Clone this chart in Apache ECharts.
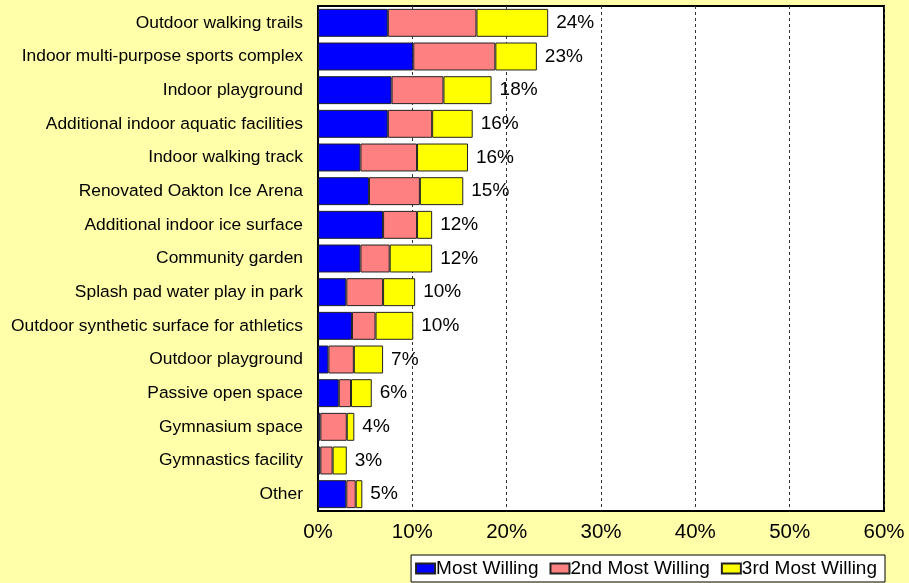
<!DOCTYPE html>
<html>
<head>
<meta charset="utf-8">
<script src="https://cdn.jsdelivr.net/npm/echarts@6/dist/echarts.min.js"></script>
<style>
  html, body { margin: 0; padding: 0; background: #FFFFAA; }
  #chart { width: 909px; height: 583px; }
</style>
</head>
<body>
<div id="chart"></div>
<script>
// Facility types, listed top to bottom
const categories = [
  'Outdoor walking trails',
  'Indoor multi-purpose sports complex',
  'Indoor playground',
  'Additional indoor aquatic facilities',
  'Indoor walking track',
  'Renovated Oakton Ice Arena',
  'Additional indoor ice surface',
  'Community garden',
  'Splash pad water play in park',
  'Outdoor synthetic surface for athletics',
  'Outdoor playground',
  'Passive open space',
  'Gymnasium space',
  'Gymnastics facility',
  'Other'
];

// Percent of respondents by willingness rank
const mostWilling   = [7.4, 10.1, 7.8, 7.4, 4.5, 5.4, 6.9, 4.5, 3.0, 3.6, 1.1, 2.2, 0.25, 0.25, 3.0];
const secondWilling = [9.4, 8.7, 5.5, 4.7, 6.0, 5.4, 3.6, 3.1, 3.9, 2.5, 2.7, 1.3, 2.8, 1.3, 1.0];
const thirdWilling  = [7.6, 4.4, 5.1, 4.3, 5.4, 4.6, 1.6, 4.5, 3.4, 4.0, 3.1, 2.2, 0.8, 1.5, 0.7];

const xTicks = [0, 10, 20, 30, 40, 50, 60];

// Combined share shown at the end of each bar
const totals = categories.map((_, i) => mostWilling[i] + secondWilling[i] + thirdWilling[i]);

const FONT = 'Liberation Sans, Arial, sans-serif';
const barBorder = { borderColor: '#222', borderWidth: 1 };

const chart = echarts.init(document.getElementById('chart'), null, { renderer: 'canvas' });

chart.setOption({
  backgroundColor: '#FFFFAA',
  animation: false,
  textStyle: { fontFamily: FONT },
  grid: {
    left: 318, right: 25, top: 6, bottom: 72,
    show: true, backgroundColor: '#FFFFFF',
    borderColor: '#000', borderWidth: 2,
    containLabel: false
  },
  legend: {
    data: ['Most Willing', '2nd Most Willing', '3rd Most Willing'],
    right: 24, bottom: 1,
    backgroundColor: '#FFFFFF',
    borderColor: '#000', borderWidth: 1, borderRadius: 0,
    padding: [4, 8, 4, 4],
    itemWidth: 19, itemHeight: 10, itemGap: 11,
    icon: 'rect',
    textStyle: { fontFamily: FONT, fontSize: 19, color: '#000', padding: [0, 0, 0, -4] }
  },
  xAxis: {
    type: 'value',
    min: xTicks[0], max: xTicks[xTicks.length - 1], interval: 10,
    axisLine: { show: true, lineStyle: { color: '#000', width: 2 } },
    axisTick: { show: false },
    axisLabel: { formatter: '{value}%', fontSize: 20.5, color: '#000', margin: 11, fontFamily: FONT },
    splitLine: { show: true, lineStyle: { color: '#333', type: [3, 3], width: 1 } }
  },
  yAxis: {
    type: 'category',
    data: categories,
    inverse: true,
    axisLine: { show: true, lineStyle: { color: '#000', width: 2 } },
    axisTick: { show: false },
    axisLabel: { fontSize: 17.4, color: '#000', margin: 15, fontFamily: FONT }
  },
  series: [
    {
      name: 'Most Willing', type: 'bar', stack: 'w',
      barCategoryGap: '17%',
      itemStyle: Object.assign({ color: '#0000FF' }, barBorder),
      data: mostWilling
    },
    {
      name: '2nd Most Willing', type: 'bar', stack: 'w',
      itemStyle: Object.assign({ color: '#FF8080' }, barBorder),
      data: secondWilling
    },
    {
      name: '3rd Most Willing', type: 'bar', stack: 'w',
      itemStyle: Object.assign({ color: '#FFFF00' }, barBorder),
      label: {
        show: true, position: 'right', distance: 8,
        fontSize: 19, color: '#000', fontFamily: FONT,
        formatter: p => Math.round(totals[p.dataIndex]) + '%'
      },
      data: thirdWilling
    }
  ]
});
</script>
</body>
</html>
